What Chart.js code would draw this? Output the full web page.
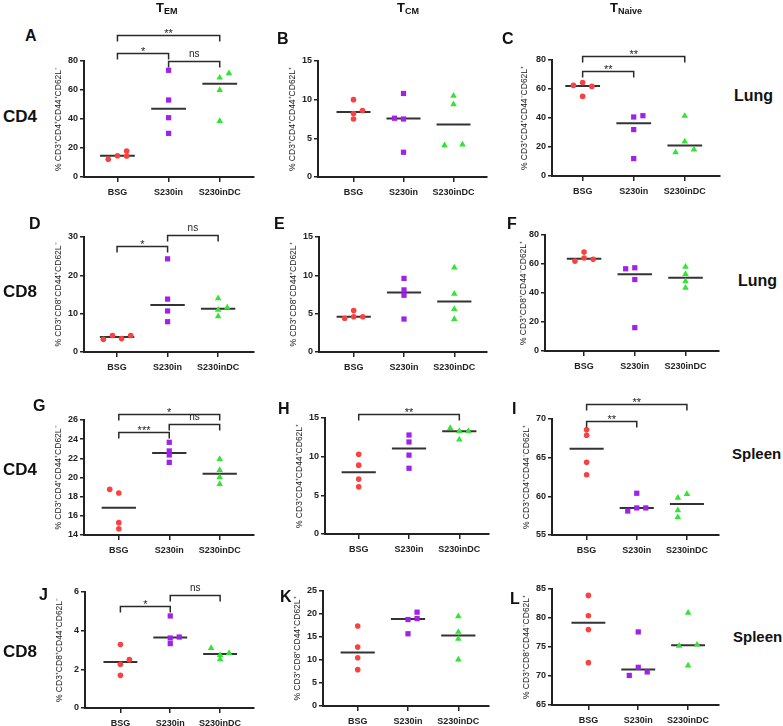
<!DOCTYPE html>
<html><head><meta charset="utf-8">
<script src="https://cdn.jsdelivr.net/npm/chart.js@4.4.1/dist/chart.umd.min.js"></script>
<style>
html,body{margin:0;padding:0;background:#fff;}
body{width:783px;height:726px;overflow:hidden;position:relative;font-family:"Liberation Sans",Arial,sans-serif;}
canvas{position:absolute;}
.t{position:absolute;font-weight:bold;color:#111;white-space:nowrap;line-height:1;}
.sub{font-size:9px;position:relative;top:2px;}
</style></head><body>
<script>
// ---------- DATA ----------
const groups = ['BSG', 'S230in', 'S230inDC'];

// Lung CD4 (A: TEM, B: TCM, C: TNaive)
const valuesA = [[12.2, 14.7, 17.9, 14.5], [73.6, 53.1, 40.9, 30.1], [68.5, 71.5, 60.0, 38.6]];
const valuesB = [[10.0, 8.2, 8.6, 7.5], [10.8, 7.6, 7.5, 3.2], [10.5, 9.4, 4.1, 4.2]];
const valuesC = [[62.5, 64.4, 61.8, 54.9], [40.7, 41.6, 32.0, 12.0], [41.4, 23.7, 16.3, 18.2]];
// Lung CD8 (D, E, F)
const valuesD = [[3.3, 4.3, 3.5, 4.3], [24.3, 13.8, 10.7, 7.9], [14.0, 11.6, 11.0, 9.3]];
const valuesE = [[4.4, 5.4, 4.6, 4.6], [9.6, 8.1, 7.4, 4.3], [11.0, 7.6, 5.6, 4.3]];
const valuesF = [[62.0, 68.2, 64.1, 63.2], [56.7, 57.4, 49.3, 16.1], [58.1, 53.0, 48.0, 43.6]];
// Spleen CD4 (G, H, I)
const valuesG = [[18.76, 18.38, 15.29, 14.66], [23.67, 22.77, 22.35, 21.58], [21.93, 20.78, 20.02, 19.32]];
const valuesH = [[10.3, 8.9, 7.1, 6.1], [12.8, 11.9, 10.2, 8.5], [13.7, 13.3, 13.3, 12.2]];
const valuesI = [[68.6, 67.9, 64.4, 62.8], [60.4, 58.1, 58.5, 58.5], [59.8, 60.3, 58.2, 57.3]];
// Spleen CD8 (J, K, L)
const valuesJ = [[3.28, 2.50, 2.26, 1.69], [4.76, 3.62, 3.67, 3.33], [3.10, 2.84, 2.74, 2.52]];
const valuesK = [[17.4, 12.8, 10.5, 7.9], [20.4, 18.8, 19.0, 15.7], [19.5, 16.1, 14.6, 10.1]];
const valuesL = [[83.9, 80.4, 78.0, 72.3], [77.6, 71.5, 70.1, 70.7], [80.9, 75.2, 75.4, 71.8]];

// beeswarm slot of each point (side-by-side dodge of overlapping points)
const slotsA = [[-1, 0, 1, 1], [0, 0, 0, 0], [0, 1, 0, 0]];
const slotsB = [[0, 0, 1, 0], [0, -1, 0, 0], [0, 0, -1, 1]];
const slotsC = [[-1, 0, 1, 0], [0, 1, 0, 0], [0, 0, -1, 1]];
const slotsD = [[-1.5, -0.5, 0.5, 1.5], [0, 0, 0, 0], [0, 1, 0, 0]];
const slotsE = [[-1, 0, 0, 1], [0, 0, 0, 0], [0, 0, 0, 0]];
const slotsF = [[-1, 0, 0, 1], [-1, 0, 0, 0], [0, 0, 0, 0]];
const slotsG = [[-1, 0, 0, 0], [0, 0, 0, 0], [0, 0, 0, 0]];
const slotsH = [[0, 0, 0, 0], [0, 0, 0, 0], [-1, 0, 1, 0]];
const slotsI = [[0, 0, 0, 0], [0, -1, 0, 1], [-1, 0, -1, -1]];
const slotsJ = [[0, 1, 0, 0], [0, 0, 1, 0], [-1, 1, 0, 0]];
const slotsK = [[0, 0, 0, 0], [1, 0, 1, 0], [0, 0, 0, 0]];
const slotsL = [[0, 0, 0, 0], [0, 0, -1, 1], [0, -1, 1, 0]];

// significance comparisons: [groupFrom, groupTo, bracket level (axis units), label]
const sigA = [[0, 2, 97.9, '**'], [0, 1, 85.4, '*'], [1, 2, 80.2, 'ns']];
const sigC = [[0, 1, 72.4, '**'], [0, 2, 83.0, '**']];
const sigD = [[0, 1, 27.6, '*'], [1, 2, 30.5, 'ns']];
const sigG = [[0, 2, 26.6, '*'], [1, 2, 25.55, 'ns'], [0, 1, 24.7, '***']];
const sigH = [[0, 2, 15.5, '**']];
const sigI = [[0, 1, 69.8, '**'], [0, 2, 72.0, '**']];
const sigJ = [[0, 1, 5.26, '*'], [1, 2, 5.83, 'ns']];

// y axis: [min, max, step]
const yTicksA = [0, 80, 20], yTicksB = [0, 15, 5], yTicksC = [0, 80, 20];
const yTicksD = [0, 30, 10], yTicksE = [0, 15, 5], yTicksF = [0, 80, 20];
const yTicksG = [14, 26, 2], yTicksH = [0, 15, 5], yTicksI = [55, 70, 5];
const yTicksJ = [0, 6, 2], yTicksK = [0, 25, 5], yTicksL = [65, 85, 5];

const titleA = '% CD3⁺CD4⁺CD44⁺CD62L⁻', titleB = '% CD3⁺CD4⁺CD44⁺CD62L⁺', titleC = '% CD3⁺CD4⁺CD44⁻CD62L⁺';
const titleD = '% CD3⁺CD8⁺CD44⁺CD62L⁻', titleE = '% CD3⁺CD8⁺CD44⁺CD62L⁺', titleF = '% CD3⁺CD8⁺CD44⁻CD62L⁺';
const titleG = '% CD3⁺CD4⁺CD44⁺CD62L⁻', titleH = '% CD3⁺CD4⁺CD44⁺CD62L⁺', titleI = '% CD3⁺CD4⁺CD44⁻CD62L⁺';
const titleJ = '% CD3⁺CD8⁺CD44⁺CD62L⁻', titleK = '% CD3⁺CD8⁺CD44⁺CD62L⁺', titleL = '% CD3⁺CD8⁺CD44⁻CD62L⁺';

// ---------- STYLE / LAYOUT ----------
const colors = ['#fb4040', '#a020ec', '#30e630'];
const shapes = ['circle', 'rect', 'triangle'];
const radii = [2.8, 3.7, 3.8];
const SLOT = 0.18, HALF = 0.34;
const PT = 52, XH = 26;

const layout = {
  A: {ax: 84,  rx: 257, top: 61,  bot: 177, xmin: 0.346, xmax: 3.67, W: 30},
  B: {ax: 318, rx: 490, top: 61,  bot: 177, xmin: 0.29,  xmax: 3.67, W: 30},
  C: {ax: 552, rx: 723, top: 60,  bot: 176, xmin: 0.40,  xmax: 3.69, W: 32},
  D: {ax: 84,  rx: 257, top: 237, bot: 352, xmin: 0.346, xmax: 3.71, W: 30},
  E: {ax: 319, rx: 490, top: 237, bot: 352, xmin: 0.31,  xmax: 3.65, W: 30},
  F: {ax: 545, rx: 722, top: 235, bot: 351, xmin: 0.23,  xmax: 3.66, W: 26},
  G: {ax: 84,  rx: 257, top: 420, bot: 535, xmin: 0.31,  xmax: 3.68, W: 30},
  H: {ax: 325, rx: 492, top: 418, bot: 534, xmin: 0.33,  xmax: 3.59, W: 30},
  I: {ax: 552, rx: 722, top: 419, bot: 535, xmin: 0.31,  xmax: 3.64, W: 30},
  J: {ax: 85,  rx: 257, top: 592, bot: 708, xmin: 0.29,  xmax: 3.68, W: 30},
  K: {ax: 323, rx: 492, top: 591, bot: 706, xmin: 0.31,  xmax: 3.61, W: 30},
  L: {ax: 552, rx: 722, top: 589, bot: 705, xmin: 0.27,  xmax: 3.62, W: 30}
};

const panels = {
  A: [valuesA, slotsA, sigA, yTicksA, titleA], B: [valuesB, slotsB, [], yTicksB, titleB], C: [valuesC, slotsC, sigC, yTicksC, titleC],
  D: [valuesD, slotsD, sigD, yTicksD, titleD], E: [valuesE, slotsE, [], yTicksE, titleE], F: [valuesF, slotsF, [], yTicksF, titleF],
  G: [valuesG, slotsG, sigG, yTicksG, titleG], H: [valuesH, slotsH, sigH, yTicksH, titleH], I: [valuesI, slotsI, sigI, yTicksI, titleI],
  J: [valuesJ, slotsJ, sigJ, yTicksJ, titleJ], K: [valuesK, slotsK, [], yTicksK, titleK], L: [valuesL, slotsL, [], yTicksL, titleL]
};

function median(a) {
  const s = [...a].sort((p, q) => p - q), n = s.length;
  return n % 2 ? s[(n - 1) / 2] : (s[n / 2 - 1] + s[n / 2]) / 2;
}

const bracketPlugin = {
  id: 'sigBrackets',
  afterDatasetsDraw(chart, args, opts) {
    const items = opts.items || [];
    const xs = chart.scales.x, ys = chart.scales.y, ctx = chart.ctx;
    ctx.save();
    ctx.strokeStyle = '#2a2a2a'; ctx.fillStyle = '#222'; ctx.lineWidth = 1.5;
    ctx.textAlign = 'center'; ctx.textBaseline = 'alphabetic';
    items.forEach(([a, b, level, label]) => {
      const x1 = xs.getPixelForValue(a + 1), x2 = xs.getPixelForValue(b + 1);
      const y = Math.round(ys.getPixelForValue(level)) + 0.5;
      ctx.beginPath();
      ctx.moveTo(x1, y + 6); ctx.lineTo(x1, y); ctx.lineTo(x2, y); ctx.lineTo(x2, y + 6);
      ctx.stroke();
      if (label === 'ns') {
        ctx.font = '10px "Liberation Sans", Arial, sans-serif';
        ctx.fillText(label, (x1 + x2) / 2, y - 4.5);
      } else {
        ctx.font = '11px "Liberation Sans", Arial, sans-serif';
        ctx.fillText(label, (x1 + x2) / 2, y + 1.5);
      }
    });
    ctx.restore();
  }
};

Chart.defaults.font.family = '"Liberation Sans", Arial, sans-serif';
Chart.defaults.color = '#222';

Object.keys(panels).forEach(id => {
  const [vals, slots, sig, yt, title] = panels[id];
  const L = layout[id];
  const cv = document.createElement('canvas');
  const w = L.W + (L.rx - L.ax) + 1;
  const h = PT + (L.bot - L.top) + XH;
  cv.width = w; cv.height = h;
  cv.style.left = (L.ax - L.W) + 'px';
  cv.style.top = (L.top - PT) + 'px';
  cv.style.width = w + 'px'; cv.style.height = h + 'px';
  document.body.appendChild(cv);

  const datasets = [];
  vals.forEach((arr, g) => {
    datasets.push({
      data: arr.map((v, i) => ({x: g + 1 + slots[g][i] * SLOT, y: v})),
      pointStyle: shapes[g], pointRadius: radii[g], pointBackgroundColor: colors[g],
      pointBorderColor: colors[g], pointBorderWidth: 0, showLine: false, clip: false
    });
  });
  vals.forEach((arr, g) => {
    const m = median(arr);
    datasets.push({
      data: [{x: g + 1 - HALF, y: m}, {x: g + 1 + HALF, y: m}],
      showLine: true, borderColor: '#333', borderWidth: 2, pointRadius: 0, clip: false
    });
  });

  new Chart(cv, {
    type: 'scatter',
    data: {datasets},
    options: {
      responsive: false, animation: false, devicePixelRatio: 1,
      layout: {padding: {top: PT, left: 0, right: 1, bottom: 0}},
      plugins: {legend: {display: false}, tooltip: {enabled: false}, sigBrackets: {items: sig}},
      scales: {
        x: {
          type: 'linear', min: L.xmin, max: L.xmax,
          afterBuildTicks: s => { s.ticks = [1, 2, 3].map(v => ({value: v})); },
          afterFit: s => { s.height = XH; },
          ticks: {callback: v => groups[v - 1], font: {size: 9, weight: 'bold'}, color: '#222', padding: 5, maxRotation: 0, autoSkip: false},
          grid: {display: true, drawOnChartArea: false, drawTicks: true, tickLength: 5, color: '#222', lineWidth: 1.5},
          border: {display: true, color: '#222', width: 2}
        },
        y: {
          type: 'linear', min: yt[0], max: yt[1],
          afterFit: s => { s.width = L.W; },
          ticks: {stepSize: yt[2], font: {size: 9, weight: 'bold'}, color: '#222', padding: 2},
          grid: {display: true, drawOnChartArea: false, drawTicks: true, tickLength: 4, color: '#222', lineWidth: 1.5},
          border: {display: true, color: '#222', width: 2},
          title: {display: true, text: title, font: {size: 8.5}, color: '#1a1a1a', padding: {top: 0, bottom: 0}}
        }
      }
    },
    plugins: [bracketPlugin]
  });
});

// ---------- TEXT LABELS ----------
function txt(html, x, capTop, size) {
  const d = document.createElement('div');
  d.className = 't';
  d.innerHTML = html;
  d.style.left = x + 'px';
  d.style.top = (capTop - 0.13 * size) + 'px';
  d.style.fontSize = size + 'px';
  document.body.appendChild(d);
}
txt('T<span class="sub">EM</span>', 156, 3, 13);
txt('T<span class="sub">CM</span>', 397, 3, 13);
txt('T<span class="sub">Naive</span>', 610, 3, 13);

[['A', 25, 30], ['B', 277, 33], ['C', 502, 33], ['D', 29, 218], ['E', 274, 218], ['F', 507, 218],
 ['G', 33, 400], ['H', 278, 403], ['I', 512, 403], ['J', 39, 589], ['K', 280, 591], ['L', 510, 593]]
  .forEach(([t, x, y]) => txt(t, x, y, 16));

[['CD4', 3, 110], ['CD8', 3, 285], ['CD4', 3, 463], ['CD8', 3, 645]].forEach(([t, x, y]) => txt(t, x, y, 17));
[['Lung', 734, 90], ['Lung', 738, 275]].forEach(([t, x, y]) => txt(t, x, y, 16));
[['Spleen', 732, 448], ['Spleen', 733, 631]].forEach(([t, x, y]) => txt(t, x, y, 15));
</script>
</body></html>
